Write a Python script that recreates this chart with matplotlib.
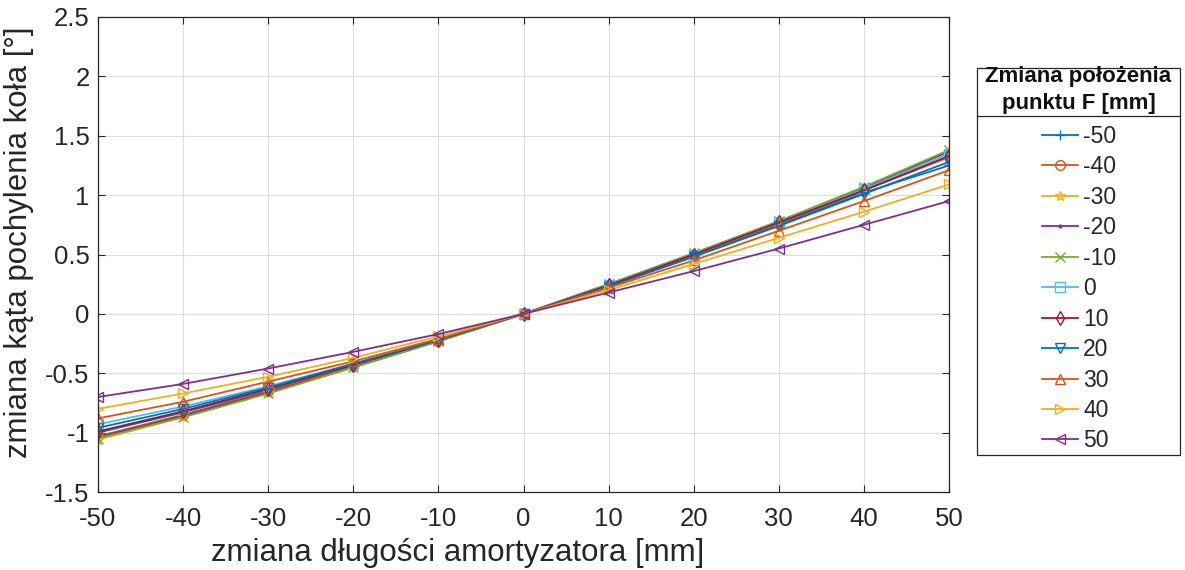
import matplotlib
matplotlib.use("Agg")
import matplotlib.pyplot as plt
from matplotlib.lines import Line2D
from matplotlib.patches import Rectangle

plt.rcParams['font.family'] = ['Liberation Sans', 'DejaVu Sans']

# shock absorber length change [mm]
x = [-50, -40, -30, -20, -10, 0, 10, 20, 30, 40, 50]

# position change of point F [mm] -> series label
labels = ['-50', '-40', '-30', '-20', '-10', '0', '10', '20', '30', '40', '50']

# wheel camber change [deg] for each position of point F
camber_m50 = [-1.00, -0.83, -0.64, -0.44, -0.22, 0, 0.24, 0.49, 0.75, 1.02, 1.25]
camber_m40 = [-1.03, -0.85, -0.65, -0.44, -0.23, 0, 0.24, 0.50, 0.76, 1.04, 1.32]
camber_m30 = [-1.06, -0.87, -0.67, -0.45, -0.23, 0, 0.25, 0.50, 0.77, 1.06, 1.36]
camber_m20 = [-1.04, -0.86, -0.66, -0.45, -0.23, 0, 0.25, 0.51, 0.78, 1.06, 1.37]
camber_m10 = [-1.05, -0.87, -0.67, -0.45, -0.23, 0, 0.25, 0.51, 0.78, 1.07, 1.38]
camber_0 = [-0.93, -0.78, -0.61, -0.42, -0.22, 0, 0.24, 0.50, 0.77, 1.05, 1.35]
camber_10 = [-0.99, -0.82, -0.63, -0.43, -0.22, 0, 0.24, 0.50, 0.77, 1.04, 1.33]
camber_20 = [-0.96, -0.80, -0.62, -0.42, -0.22, 0, 0.23, 0.48, 0.74, 1.01, 1.28]
camber_30 = [-0.88, -0.74, -0.57, -0.40, -0.21, 0, 0.22, 0.45, 0.70, 0.95, 1.21]
camber_40 = [-0.80, -0.67, -0.53, -0.37, -0.19, 0, 0.20, 0.42, 0.64, 0.86, 1.09]
camber_50 = [-0.70, -0.59, -0.46, -0.32, -0.17, 0, 0.18, 0.36, 0.55, 0.75, 0.95]

series = [camber_m50, camber_m40, camber_m30, camber_m20, camber_m10, camber_0,
          camber_10, camber_20, camber_30, camber_40, camber_50]

colors = ['#0072BD', '#D95319', '#EDB120', '#7E2F8E', '#77AC30', '#4DBEEE',
          '#A2142F', '#0072BD', '#D95319', '#EDB120', '#7E2F8E']
markers = ['+', 'o', '*', '.', 'x', 's', 'd', 'v', '^', '>', '<']

W, H = 1185, 570
fig = plt.figure(figsize=(W / 100, H / 100), dpi=100)
ax_l, ax_r, ax_t, ax_b = 98, 949, 17, 492
ax = fig.add_axes([ax_l / W, 1 - ax_b / H, (ax_r - ax_l) / W, (ax_b - ax_t) / H])

handles = []
for ys, c, m, lab in zip(series, colors, markers, labels):
    ms = 7 if m != '.' else 4
    h, = ax.plot(x, ys, color=c, marker=m, markersize=ms, markerfacecolor='none',
                 markeredgecolor=c, linewidth=1.3, markeredgewidth=1.0, label=lab)
    handles.append(h)

ax.set_xlim(-50, 50)
ax.set_ylim(-1.5, 2.5)
ax.set_xticks(range(-50, 51, 10))
ax.set_yticks([-1.5, -1, -0.5, 0, 0.5, 1, 1.5, 2, 2.5])
ax.set_yticklabels(['-1.5', '-1', '-0.5', '0', '0.5', '1', '1.5', '2', '2.5'])
ax.set_xticklabels([str(v) for v in range(-50, 51, 10)])
ax.grid(True, color='#dcdcdc', linewidth=0.8)
ax.set_axisbelow(True)
ax.tick_params(direction='in', length=5, labelsize=18.5, colors='#262626',
               top=True, right=True)
ax.tick_params(axis='x', pad=11)
ax.tick_params(axis='y', pad=6)
for sp in ax.spines.values():
    sp.set_color('#262626')
    sp.set_linewidth(0.9)

ax.set_xlabel('zmiana długości amortyzatora [mm]', fontsize=22.5, color='#262626')
ax.set_ylabel('zmiana kąta pochylenia koła [°]', fontsize=22.5, color='#262626')
ax.xaxis.set_label_coords((458 - ax_l) / (ax_r - ax_l), -(538 - ax_b) / (ax_b - ax_t))
ax.yaxis.set_label_coords(-(ax_l - 34) / (ax_r - ax_l), (ax_b - 242) / (ax_b - ax_t))

# legend box with a separate title section
bx0, bx1 = 977 / W, 1180 / W
by0, by1 = 1 - 455 / H, 1 - 68 / H
sep = 1 - 116 / H
fig.patches.append(Rectangle((bx0, by0), bx1 - bx0, by1 - by0, transform=fig.transFigure,
                             facecolor='white', edgecolor='#262626', linewidth=0.9))
fig.lines.append(Line2D([bx0, bx1], [sep, sep], transform=fig.transFigure,
                        color='#262626', linewidth=0.9))
fig.text((bx0 + bx1) / 2, 1 - 90 / H, 'Zmiana położenia\npunktu F [mm]',
         ha='center', va='center', fontsize=16, fontweight='bold', linespacing=1.35,
         color='#111111')

leg = fig.legend(handles=handles, loc='upper left',
                 bbox_to_anchor=(1042 / W, 1 - 125 / H), frameon=False,
                 fontsize=16.5, handlelength=1.55, handletextpad=0.25,
                 labelspacing=0.325, borderpad=0, borderaxespad=0)
for t in leg.get_texts():
    t.set_color('#262626')

fig.savefig('out.png', dpi=100)
